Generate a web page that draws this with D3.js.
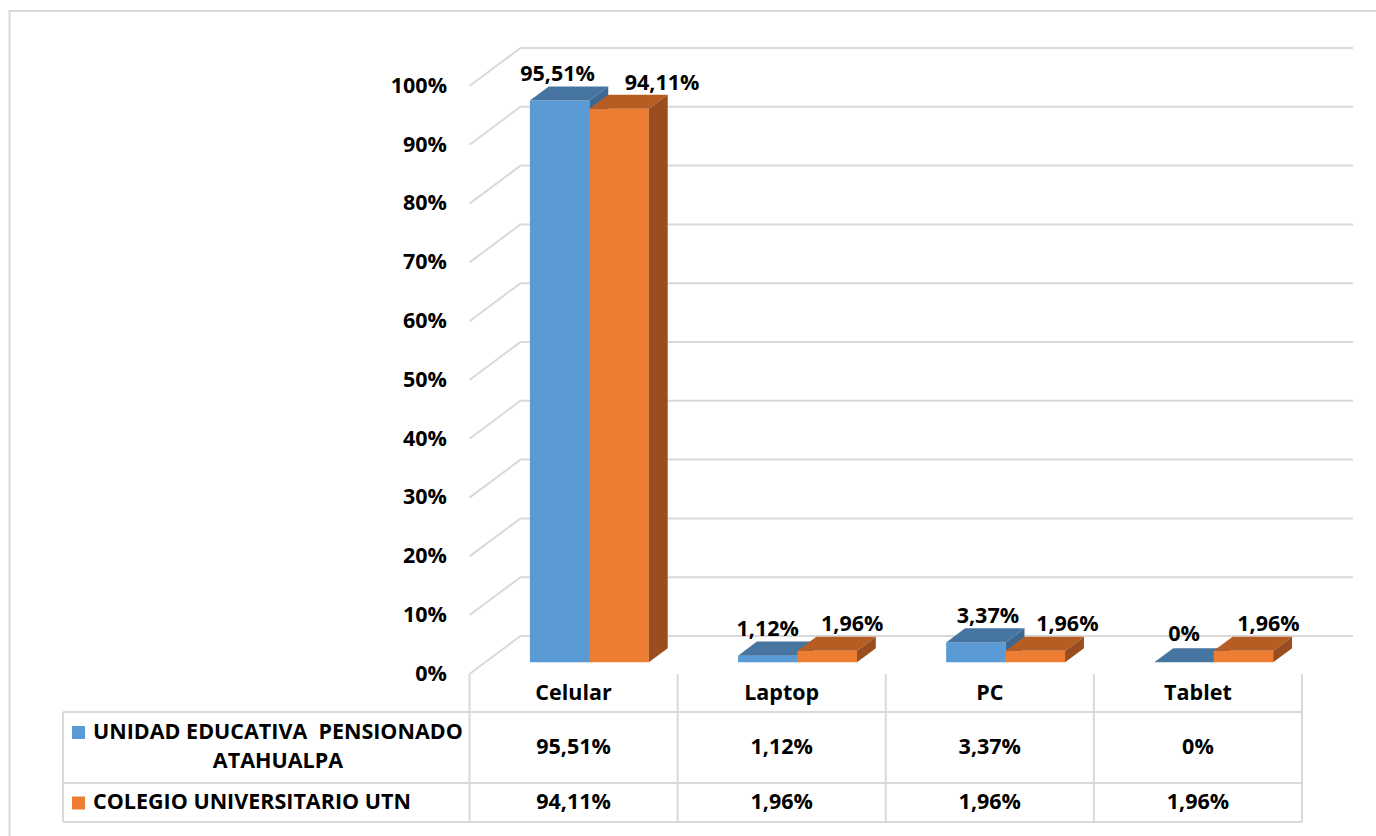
<!DOCTYPE html>
<html>
<head>
<meta charset="utf-8">
<script src="https://cdn.jsdelivr.net/npm/d3@7"></script>
<style>
  html, body { margin: 0; padding: 0; background: #fff; }
  svg { display: block; }
  text { font-family: "Open Sans", Lato, "Liberation Sans", sans-serif; font-weight: bold; fill: #000; }
</style>
</head>
<body>
<svg id="chart" width="1376" height="836"></svg>
<script>
// ---- data ----
const categories = ["Celular", "Laptop", "PC", "Tablet"];
const seriesNames = ["UNIDAD EDUCATIVA  PENSIONADO ATAHUALPA", "COLEGIO UNIVERSITARIO UTN"];
const unidadValues = [95.51, 1.12, 3.37, 0];
const colegioValues = [94.11, 1.96, 1.96, 1.96];
const tickValues = [0, 10, 20, 30, 40, 50, 60, 70, 80, 90, 100];

const series = [
  { key: "unidad", name: seriesNames[0], values: unidadValues, front: "#5b9bd5", top: "#4775a2", side: "#3d6891" },
  { key: "colegio", name: seriesNames[1], values: colegioValues, front: "#ed7d31", top: "#b65d24", side: "#9a4d1e" }
];

// ---- layout ----
const svg = d3.select("#chart");
const FONT = 21.5;
const grid = "#d9d9d9";

// front plane of the 3D box and its depth vector
const x0 = 469.5, x1 = 1302;
const depth = { dx: 51, dy: -38 };
const barDepth = [0.31, 0.68];   // bars sit between these depth fractions

const y = d3.scaleLinear().domain([0, 100]).range([674, 86]);
const x = d3.scaleBand().domain(categories).range([x0, x1]).paddingInner(0).paddingOuter(0);
const xs = d3.scaleBand().domain(series.map(s => s.key)).range([0, x.bandwidth()]).paddingInner(0).paddingOuter(0.75);

const P = (px, v, f) => [px + depth.dx * f, y(v) + depth.dy * f];

const locale = d3.formatLocale({ decimal: ",", thousands: ".", grouping: [3], currency: ["$", ""] });
const f2 = locale.format(".2f");
const fmt = v => (Number.isInteger(v) ? v : f2(v)) + "%";

// outer chart border
svg.append("rect")
  .attr("x", 9.5).attr("y", 11).attr("width", 1400).attr("height", 900)
  .attr("fill", "none").attr("stroke", grid).attr("stroke-width", 2);

// gridlines: side wall diagonal + back wall horizontal
const line = d3.line();
svg.append("g").selectAll("path").data(tickValues).join("path")
  .attr("d", t => line([P(x0, t, 0), P(x0, t, 1), [1353, P(x0, t, 1)[1]]]))
  .attr("fill", "none").attr("stroke", grid).attr("stroke-width", 2);

// y tick labels
svg.append("g").selectAll("text").data(tickValues).join("text")
  .attr("x", 447).attr("y", t => y(t) + 1)
  .attr("text-anchor", "end").attr("dominant-baseline", "middle")
  .style("font-size", FONT + "px")
  .text(t => t + "%");

// bars (front, top, side faces), drawn left to right
const poly = pts => "M" + pts.map(p => p.join(",")).join("L") + "Z";
const bars = svg.append("g");
categories.forEach((c, i) => {
  series.forEach(s => {
    const v = s.values[i];
    const xl = x(c) + xs(s.key), xr = xl + xs.bandwidth();
    const [fa, fb] = barDepth;
    const g = bars.append("g");
    // front
    g.append("path").attr("d", poly([P(xl, 0, fa), P(xr, 0, fa), P(xr, v, fa), P(xl, v, fa)])).attr("fill", s.front);
    // top
    g.append("path").attr("d", poly([P(xl, v, fa), P(xr, v, fa), P(xr, v, fb), P(xl, v, fb)])).attr("fill", s.top);
    // right side
    g.append("path").attr("d", poly([P(xr, 0, fa), P(xr, 0, fb), P(xr, v, fb), P(xr, v, fa)])).attr("fill", s.side);
  });
});

// data labels above bars
const labelShift = { Celular: [-2, 43], Laptop: [0, 25], PC: [12, 32], Tablet: [0, 25] };
const labels = svg.append("g");
categories.forEach((c, i) => {
  series.forEach((s, k) => {
    const v = s.values[i];
    const xl = x(c) + xs(s.key), xr = xl + xs.bandwidth();
    const [, fb] = barDepth;
    const [px] = P((xl + xr) / 2, v, barDepth[0]);
    const [, py] = P(xl, v, fb);
    labels.append("text")
      .attr("x", px + labelShift[c][k])
      .attr("y", py - 11 - (v === 0 ? 2 : 0))
      .attr("text-anchor", "middle").attr("dominant-baseline", "middle")
      .style("font-size", FONT + "px")
      .text(fmt(v));
  });
});

// ---- data table ----
const tTop = 674, hdrBot = 712, row1Bot = 783, row2Bot = 822, legLeft = 63;
const tbl = svg.append("g").attr("stroke", grid).attr("stroke-width", 2).attr("fill", "none");
[hdrBot, row1Bot, row2Bot].forEach(yy => tbl.append("line").attr("x1", legLeft).attr("x2", x1).attr("y1", yy).attr("y2", yy));
tbl.append("line").attr("x1", legLeft).attr("x2", legLeft).attr("y1", hdrBot).attr("y2", row2Bot);
[x0, ...categories.map(c => x(c) + x.bandwidth())].forEach(xx =>
  tbl.append("line").attr("x1", xx).attr("x2", xx).attr("y1", tTop).attr("y2", row2Bot));

// header row
svg.append("g").selectAll("text").data(categories).join("text")
  .attr("x", c => x(c) + x.bandwidth() / 2).attr("y", (tTop + hdrBot) / 2 + 1)
  .attr("text-anchor", "middle").attr("dominant-baseline", "middle")
  .style("font-size", FONT + "px")
  .text(c => c);

// value rows
const rowMid = [(hdrBot + row1Bot) / 2 + 1, (row1Bot + row2Bot) / 2 + 1];
series.forEach((s, k) => {
  svg.append("g").selectAll("text").data(s.values).join("text")
    .attr("x", (d, i) => x(categories[i]) + x.bandwidth() / 2).attr("y", rowMid[k])
    .attr("text-anchor", "middle").attr("dominant-baseline", "middle")
    .style("font-size", FONT + "px")
    .text(d => fmt(d));
});

// legend keys and series names
const keyX = 72, textX = 93;
// first series name wraps onto two lines
const l1 = svg.append("text").attr("x", textX).attr("y", 733)
  .attr("dominant-baseline", "middle").style("font-size", FONT + "px").style("white-space", "pre")
  .text("UNIDAD EDUCATIVA  PENSIONADO");
const w1 = l1.node().getComputedTextLength();
svg.append("text").attr("x", textX + w1 / 2).attr("y", 762)
  .attr("text-anchor", "middle").attr("dominant-baseline", "middle").style("font-size", FONT + "px")
  .text("ATAHUALPA");
svg.append("rect").attr("x", keyX).attr("y", 726).attr("width", 13).attr("height", 13).attr("fill", series[0].front);

svg.append("text").attr("x", textX).attr("y", rowMid[1])
  .attr("dominant-baseline", "middle").style("font-size", FONT + "px")
  .text(series[1].name);
svg.append("rect").attr("x", keyX).attr("y", rowMid[1] - 7).attr("width", 13).attr("height", 13).attr("fill", series[1].front);
</script>
</body>
</html>
